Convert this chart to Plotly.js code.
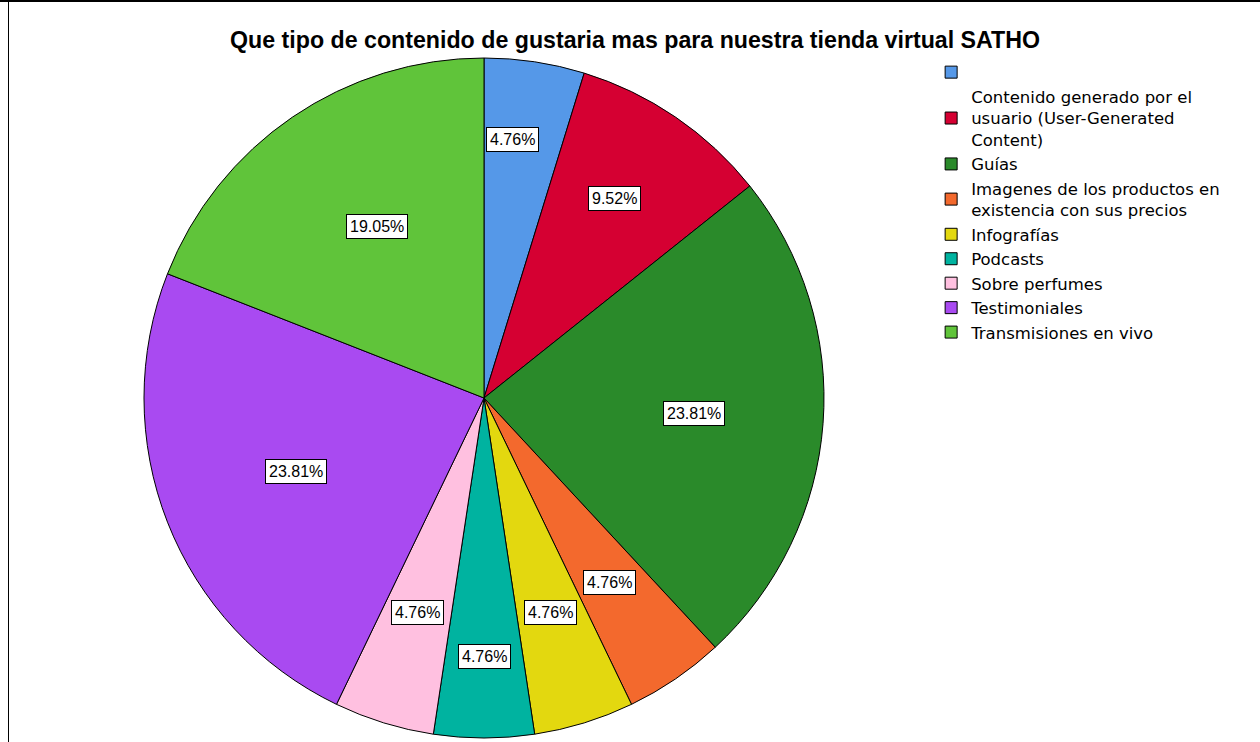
<!DOCTYPE html>
<html>
<head>
<meta charset="utf-8">
<script src="https://cdn.plot.ly/plotly-3.0.1.min.js"></script>
<style>
html,body{margin:0;padding:0;background:#fff;}
#chart{position:absolute;left:0;top:0;width:1260px;height:742px;}
#bl{position:absolute;left:8px;top:0;width:1px;height:742px;background:#000;}
#bt{position:absolute;left:0;top:0;width:1260px;height:2px;background:#000;}
</style>
</head>
<body>
<div id="chart"></div>
<div id="bl"></div>
<div id="bt"></div>
<script>
const categories = [
  " ",
  "Contenido generado por el<br>usuario (User-Generated<br>Content)",
  "Guías",
  "Imagenes de los productos en<br>existencia con sus precios",
  "Infografías",
  "Podcasts",
  "Sobre perfumes",
  "Testimoniales",
  "Transmisiones en vivo"
];
const counts = [1, 2, 5, 1, 1, 1, 1, 5, 4];
const colors = ["#5598E8", "#D50032", "#2A8A2A", "#F3692D", "#E3D80F", "#00B3A0", "#FFC0E0", "#A94AF1", "#60C43A"];
const labelRadius = [0.766, 0.70, 0.62, 0.656, 0.66, 0.76, 0.66, 0.595, 0.596];
const labelAngleShift = [-2.2, -1.1, 0, 0, 0, 0, 0, 0, 2.3];

const W = 1260, H = 742;
const cx = 484, cy = 398, R = 340;
const dom = {x: [(cx - R) / W, (cx + R) / W], y: [(H - cy - R) / H, (H - cy + R) / H]};

const total = counts.reduce((a, b) => a + b, 0);
const annotations = [];
let cum = 0;
counts.forEach((v, i) => {
  const mid = (cum + v / 2) / total * 2 * Math.PI + labelAngleShift[i] * Math.PI / 180;
  cum += v;
  const r = R * labelRadius[i];
  const px = cx + r * Math.sin(mid);
  const py = cy - r * Math.cos(mid);
  annotations.push({
    xref: "paper", yref: "paper",
    x: px / W, y: 1 - py / H,
    xanchor: "center", yanchor: "middle",
    text: (v / total * 100).toFixed(2) + "%",
    showarrow: false,
    bgcolor: "#ffffff", bordercolor: "#000000", borderwidth: 1, borderpad: 3,
    font: {family: "Liberation Sans, Arial, sans-serif", size: 16, color: "#000"}
  });
});

const trace = {
  type: "pie",
  labels: categories,
  values: counts,
  sort: false,
  direction: "clockwise",
  rotation: 0,
  textinfo: "none",
  hoverinfo: "label+percent",
  marker: {colors: colors, line: {color: "#000000", width: 1}},
  domain: dom
};

const layout = {
  width: W, height: H,
  margin: {l: 0, r: 0, t: 0, b: 0},
  paper_bgcolor: "#ffffff",
  showlegend: true,
  title: {
    text: "<b>Que tipo de contenido de gustaria mas para nuestra tienda virtual SATHO</b>",
    x: 0.504, xanchor: "center", y: 0.946, yanchor: "middle",
    font: {family: "Liberation Sans, Arial, sans-serif", size: 23.2, color: "#000"}
  },
  legend: {
    x: 0.739, xanchor: "left", y: 0.926, yanchor: "top",
    font: {family: "DejaVu Sans, sans-serif", size: 16.5, color: "#000"},
    traceorder: "normal",
    itemclick: false
  },
  annotations: annotations
};

Plotly.newPlot("chart", [trace], layout, {displayModeBar: false, staticPlot: true});
</script>
</body>
</html>
